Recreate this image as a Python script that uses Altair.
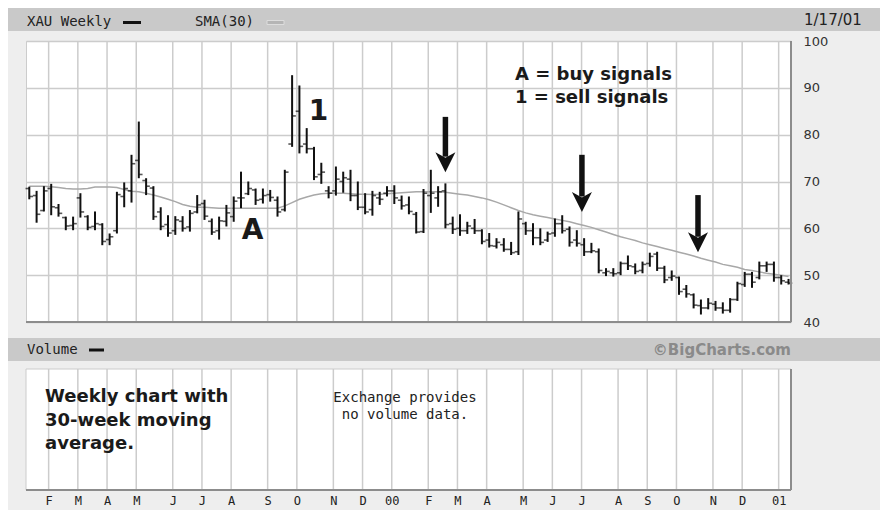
import altair as alt
import pandas as pd

# ---------------- data ----------------
opens = [68.5, 67.0, 63.8, 68.5, 64.4, 62.3, 60.6, 66.5, 62.5, 60.4,
         60.8, 57.6, 59.5, 66.8, 68.0, 74.5, 70.2, 68.6, 63.5, 60.8,
         59.5, 61.5, 60.3, 63.5, 65.3, 61.5, 59.5, 61.5, 62.5, 66.5,
         67.4, 68.2, 66.2, 67.2, 66.0, 64.0, 78.0, 85.0, 78.0, 77.0,
         71.5, 68.0, 68.0, 70.0, 70.5, 67.0, 64.5, 64.0, 66.5, 67.5,
         68.0, 66.0, 65.0, 63.0, 59.3, 67.0, 66.5, 68.0, 61.0, 60.0,
         59.5, 60.0, 59.5, 57.5, 56.2, 56.5, 55.5, 55.0, 61.0, 59.5,
         58.0, 57.5, 59.0, 61.0, 59.8, 57.5, 56.5, 55.0, 55.0, 50.5,
         50.5, 50.5, 52.5, 51.8, 51.0, 52.5, 54.5, 51.5, 49.5, 49.5,
         47.0, 45.8, 43.5, 43.0, 43.8, 43.0, 42.5, 44.8, 48.0, 50.2,
         49.5, 52.0, 52.3, 49.5, 48.5]
highs = [68.9, 68.0, 69.0, 69.5, 65.2, 62.5, 62.5, 67.5, 62.8, 63.6,
         61.1, 58.9, 67.8, 69.8, 75.7, 82.8, 70.7, 69.0, 64.5, 62.8,
         62.6, 62.6, 63.9, 67.1, 66.1, 62.1, 62.5, 65.0, 66.8, 72.1,
         70.0, 68.5, 68.5, 68.2, 66.8, 72.5, 92.7, 90.5, 81.4, 77.4,
         74.0, 69.0, 73.2, 72.1, 72.5, 70.0, 67.5, 68.0, 67.8, 69.0,
         69.2, 67.0, 66.8, 63.5, 68.4, 72.5, 69.0, 69.6, 62.5, 63.0,
         61.4, 62.0, 59.8, 59.0, 57.9, 57.9, 57.1, 63.6, 61.4, 61.1,
         60.0, 59.3, 62.1, 62.8, 60.4, 59.6, 57.9, 56.9, 55.7, 51.5,
         51.5, 52.9, 54.2, 52.5, 52.9, 54.8, 55.0, 52.0, 51.0, 49.7,
         47.9, 46.1, 44.8, 45.1, 44.5, 44.2, 45.1, 48.6, 50.7, 50.7,
         52.9, 52.9, 52.9, 50.0, 49.2]
lows = [66.2, 61.2, 63.6, 62.8, 62.5, 59.6, 59.6, 62.3, 59.6, 59.6,
        56.4, 56.4, 58.9, 64.5, 65.5, 70.7, 67.1, 61.8, 59.6, 58.2,
        58.6, 59.3, 59.3, 63.2, 61.8, 58.6, 57.6, 60.4, 61.4, 64.3,
        67.1, 65.0, 65.3, 65.7, 62.5, 63.6, 77.4, 76.0, 76.0, 70.3,
        69.5, 66.4, 67.0, 67.6, 65.8, 63.9, 63.0, 62.7, 65.0, 66.8,
        65.2, 64.0, 63.0, 58.9, 59.0, 63.3, 64.6, 60.0, 58.8, 58.4,
        58.8, 58.8, 56.6, 55.9, 55.7, 55.0, 54.3, 54.3, 58.6, 56.4,
        56.4, 57.1, 58.2, 58.9, 56.1, 56.1, 54.1, 54.7, 50.4, 49.8,
        49.7, 50.0, 51.1, 50.2, 50.4, 51.8, 50.9, 48.3, 48.8, 45.8,
        45.2, 42.9, 41.6, 42.7, 42.4, 41.8, 42.0, 44.5, 47.5, 47.3,
        49.1, 50.7, 48.6, 48.0, 48.0]
closes = [66.8, 63.0, 68.0, 64.6, 63.2, 60.5, 61.0, 63.5, 60.2, 61.0,
          57.2, 58.2, 67.2, 68.5, 73.8, 71.5, 69.0, 62.5, 60.4, 59.0,
          61.8, 60.0, 63.2, 65.0, 62.6, 59.2, 61.6, 63.3, 65.8, 66.5,
          68.5, 66.0, 67.0, 66.6, 63.5, 72.0, 84.0, 77.5, 77.0, 71.0,
          72.0, 67.5, 70.5, 70.8, 67.0, 64.5, 63.5, 67.0, 66.2, 68.0,
          66.5, 64.8, 63.6, 59.2, 67.5, 67.5, 67.8, 60.8, 59.8, 59.5,
          60.5, 59.5, 57.2, 56.3, 57.0, 55.5, 54.8, 62.0, 59.5, 58.0,
          57.0, 58.8, 61.0, 59.5, 57.0, 56.8, 55.0, 55.2, 51.0, 50.8,
          50.3, 52.5, 52.0, 50.8, 52.3, 54.0, 51.5, 49.0, 49.8, 46.5,
          46.0, 43.6, 43.0, 44.0, 43.0, 42.5, 44.8, 48.2, 50.2, 48.5,
          52.0, 52.3, 49.5, 48.8, 48.3]
sma30 = [69.0, 69.0, 69.0, 68.9, 68.7, 68.5, 68.4, 68.4, 68.5, 68.8,
         68.8, 68.8, 68.7, 68.3, 67.9, 67.8, 67.5, 67.1, 66.7, 66.2,
         65.7, 65.1, 64.7, 64.5, 64.5, 64.4, 64.3, 64.3, 64.3, 64.3,
         64.3, 64.3, 64.3, 64.3, 64.3, 64.8, 65.5, 66.2, 66.7, 67.1,
         67.4, 67.5, 67.5, 67.5, 67.4, 67.3, 67.3, 67.2, 67.3, 67.4,
         67.5, 67.6, 67.7, 67.8, 67.8, 67.8, 67.8, 67.7, 67.5, 67.3,
         67.1, 66.8, 66.5, 66.1, 65.6, 65.0, 64.4, 63.8, 63.3, 62.9,
         62.6, 62.3, 62.0, 61.7, 61.4, 61.0, 60.6, 60.2, 59.7, 59.2,
         58.7, 58.2, 57.8, 57.4, 56.9, 56.5, 56.1, 55.7, 55.3, 54.9,
         54.5, 54.1, 53.6, 53.2, 52.8, 52.3, 52.0, 51.7, 51.2, 51.0,
         50.7, 50.4, 50.2, 50.0, 49.7]

y_ticks = [40, 50, 60, 70, 80, 90, 100]
month_letters = ["J", "F", "M", "A", "M", "J", "J", "A", "S", "O", "N", "D"]

arrow_week = [57.0, 75.7, 91.6]
arrow_top = [83.8, 75.7, 67.1]
arrow_tip = [72.0, 63.5, 54.9]

signal_text = ["A", "1"]
signal_week = [30.6, 39.6]
signal_val = [59.4, 84.8]

# ---------------- tables ----------------
week_start = pd.date_range("1999-01-11", periods=len(closes), freq="7D")
week_end = week_start + pd.Timedelta(days=6)
n = len(closes)
bars = pd.DataFrame({"i": range(n), "o": opens, "h": highs, "l": lows,
                     "c": closes, "sma": sma30})

grid_pos, grid_lab = [], []
for k in range(n):
    if week_start[k].day == 1 or week_end[k].month != week_start[k].month:
        m = week_end[k].month
        grid_pos.append(round(k - 0.35, 2))
        grid_lab.append(week_end[k].strftime("%y") if m == 1 else month_letters[m - 1])
grid = pd.DataFrame({"gp": grid_pos, "lab": grid_lab})

label_expr = ":".join(f"abs(datum.value-({p}))<0.05?'{l}'" for p, l in zip(grid_pos, grid_lab)) + ":''"

arrows = pd.DataFrame({"ax": arrow_week, "top": arrow_top, "tip": arrow_tip})
signals = pd.DataFrame({"sx": signal_week, "sy": signal_val, "st": signal_text})

# ---------------- layout ----------------
W, H = 765, 281
XS = alt.Scale(domain=[-0.452, 104.34], nice=False, zero=False)
YS = alt.Scale(domain=[40, 100], nice=False, zero=False)
INK = "#111111"
GRID = "#cccccc"
BAND = "#c9c9c9"
DARK = "#8c8c8c"
MONO = "DejaVu Sans Mono"
SANS = "DejaVu Sans"

XAX = alt.Axis(values=grid_pos, labelExpr=label_expr, orient="bottom", offset=172,
               domain=False, ticks=False, tickSize=0, grid=False, labelPadding=6,
               labelFlush=False, labelOverlap=False, labelFont=MONO, labelFontSize=12,
               labelColor="#222222", labelBaseline="middle", title=None)
YAX = alt.Axis(orient="right", values=y_ticks, grid=True, gridColor=GRID, gridWidth=1.5,
               domain=False, ticks=False, tickSize=0, labelPadding=12,
               labelFont=SANS, labelFontSize=13, labelColor="#333333",
               labelAlign="left", labelBaseline="middle", labelFlush=False,
               labelOverlap=False, title=None)


def X(f):
    return alt.X(f, type="quantitative", scale=XS, axis=XAX)


def Y(f):
    return alt.Y(f, type="quantitative", scale=YS, axis=YAX)


def one(v="x"):
    return pd.DataFrame({"t": [v]})


def ptext(txt, px, py, **kw):
    return alt.Chart(one(txt)).mark_text(**kw).encode(
        x=alt.value(px), y=alt.value(py), text="t:N")


def prect(x1, x2, y1, y2, **kw):
    return alt.Chart(one()).mark_rect(**kw).encode(
        x=alt.value(x1), x2=alt.value(x2), y=alt.value(y1), y2=alt.value(y2))


def prule(x1, x2, y1, y2, **kw):
    return alt.Chart(one()).mark_rule(**kw).encode(
        x=alt.value(x1), x2=alt.value(x2), y=alt.value(y1), y2=alt.value(y2))


layers = []
# header bands
layers.append(prect(-18, 854, -33, -10, color=BAND))
layers.append(prect(-18, 854, 297, 320, color=BAND))
# volume panel
layers.append(prect(0, W, 328, 449, color="white", stroke=GRID, strokeWidth=1))

# vertical grid lines: price panel and volume panel
layers.append(alt.Chart(grid).mark_rule(color=GRID, strokeWidth=1.5).encode(
    x=X("gp"), y=alt.value(0), y2=alt.value(H)))
layers.append(alt.Chart(grid).mark_rule(color=GRID, strokeWidth=1.5).encode(
    x=X("gp"), y=alt.value(328), y2=alt.value(449)))

# SMA line
layers.append(alt.Chart(bars).mark_line(color="#a8a8a8", strokeWidth=1.5).encode(
    x=X("i"), y=Y("sma")))

# OHLC bars
layers.append(alt.Chart(bars).mark_rule(color=INK, strokeWidth=2).encode(
    x=X("i"), y=Y("l"), y2="h:Q"))
layers.append(alt.Chart(bars).mark_tick(orient="horizontal", size=3.5, thickness=1.6,
                                        xOffset=-2, color=INK).encode(x=X("i"), y=Y("o")))
layers.append(alt.Chart(bars).mark_tick(orient="horizontal", size=3.5, thickness=1.6,
                                        xOffset=2, color=INK).encode(x=X("i"), y=Y("c")))

# arrows
layers.append(alt.Chart(arrows).transform_calculate(base="datum.tip + 3.3").mark_rule(
    color=INK, strokeWidth=5.5).encode(x=X("ax"), y=Y("top"), y2="base:Q"))
layers.append(alt.Chart(arrows).mark_point(
    shape="M0,0 L-1,-2 L0,-1.45 L1,-2 Z", size=400, filled=True, color=INK,
    opacity=1, strokeWidth=0).encode(x=X("ax"), y=Y("tip")))

# signal labels
layers.append(alt.Chart(signals).mark_text(font=SANS, fontWeight="bold",
                                           fontSize=28, color="#1a1a1a").encode(
    x=X("sx"), y=Y("sy"), text="st:N"))

# panel borders (shadow on bottom/right)
layers.append(prule(0, W, H, H, color=DARK, strokeWidth=2))
layers.append(prule(W, W, 0, H, color=DARK, strokeWidth=2))
layers.append(prule(0, W, 449, 449, color=DARK, strokeWidth=2))
layers.append(prule(W, W, 328, 449, color=DARK, strokeWidth=2))

# header texts and legend swatches
HDR = dict(font=MONO, fontSize=14, align="left", baseline="middle", color="#222222")
layers.append(ptext("XAU Weekly", 1, -19, **HDR))
layers.append(prect(97, 115, -20, -17, color="#111111"))
layers.append(ptext("SMA(30)", 169, -19, **HDR))
layers.append(prect(241, 258, -20.5, -16.5, color="#b5b5b5", stroke="#dddddd", strokeWidth=1))
layers.append(ptext("1/17/01", 778, -21, font=SANS, fontSize=15, align="left",
                    baseline="middle", color="#222222"))
layers.append(ptext("Volume", 1, 309, **HDR))
layers.append(prect(63, 78, 307.5, 310.5, color="#111111"))
layers.append(ptext("©BigCharts.com", 765, 309, font=SANS, fontWeight="bold",
                    fontSize=15, align="right", baseline="middle", color="#8a8a8a"))

# annotation texts (one mark per line)
BOLD = dict(font=SANS, fontWeight="bold", fontSize=18, align="left",
            baseline="middle", color="#1a1a1a")
layers.append(ptext("A = buy signals", 489, 34, **BOLD))
layers.append(ptext("1 = sell signals", 489, 57, **BOLD))
layers.append(ptext("Weekly chart with", 19, 356, **BOLD))
layers.append(ptext("30-week moving", 19, 380, **BOLD))
layers.append(ptext("average.", 19, 403, **BOLD))
MTXT = dict(font=MONO, fontSize=14, align="center", baseline="middle", color="#222222")
layers.append(ptext("Exchange provides", 379, 357, **MTXT))
layers.append(ptext("no volume data.", 379, 374, **MTXT))

chart = alt.layer(*layers).properties(
    width=W, height=H, autosize="none",
    padding={"left": 18, "top": 33, "right": 89, "bottom": 188},
    background="#eeeeee",
).configure_view(fill="white", stroke=GRID, strokeWidth=1)

chart.save("out.html", embed_options={"renderer": "svg", "actions": False})
